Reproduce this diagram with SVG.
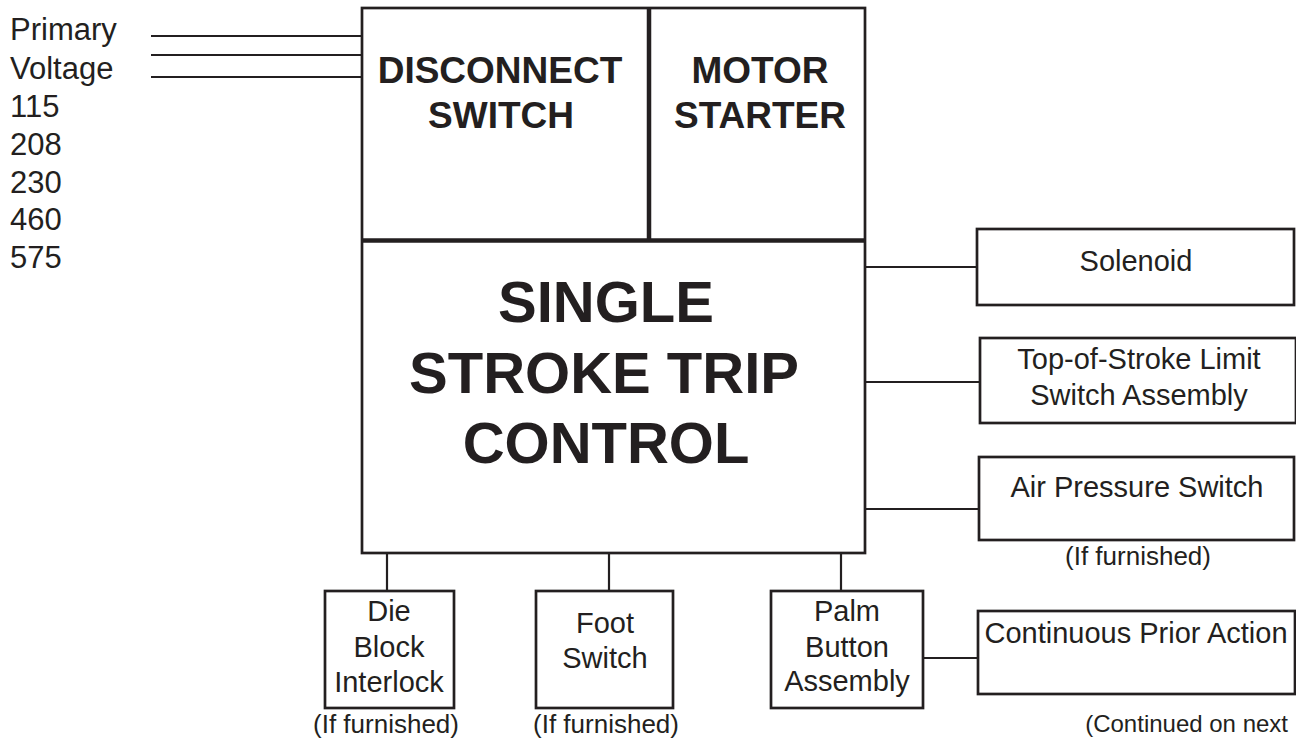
<svg xmlns="http://www.w3.org/2000/svg" width="1296" height="740" viewBox="0 0 1296 740">
<style>
text{font-family:"Liberation Sans",Arial,Helvetica,sans-serif;fill:#231f20}
.lbl{font-size:29px;text-anchor:middle}
.left{font-size:31px}
.note{font-size:26px;text-anchor:middle}
.big{font-size:58px;font-weight:bold;text-anchor:middle}
.hdr{font-size:37px;font-weight:bold;text-anchor:middle}
.box{fill:#fff;stroke:#231f20;stroke-width:2.7}
.div{stroke:#231f20;stroke-width:4.5;fill:none}
.con{stroke:#231f20;stroke-width:2.2;fill:none}
</style>
<rect width="1296" height="740" fill="#fff"/>
<g id="connectors">
<line class="con" x1="151" y1="36" x2="362" y2="36"/>
<line class="con" x1="151" y1="55" x2="362" y2="55"/>
<line class="con" x1="151" y1="77" x2="362" y2="77"/>
<line class="con" x1="865" y1="267" x2="977" y2="267"/>
<line class="con" x1="865" y1="382" x2="980" y2="382"/>
<line class="con" x1="865" y1="509" x2="979" y2="509"/>
<line class="con" x1="387" y1="553" x2="387" y2="591"/>
<line class="con" x1="609" y1="553" x2="609" y2="591"/>
<line class="con" x1="841" y1="553" x2="841" y2="591"/>
<line class="con" x1="923" y1="658" x2="978" y2="658"/>
</g>
<g id="primary-voltage">
<text class="left" x="10" y="40">Primary</text>
<text class="left" x="10" y="79">Voltage</text>
<text class="left" x="10" y="117">115</text>
<text class="left" x="10" y="155">208</text>
<text class="left" x="10" y="193">230</text>
<text class="left" x="10" y="230">460</text>
<text class="left" x="10" y="268">575</text>
</g>
<g id="main-control">
<rect class="box" x="362" y="8" width="503" height="545"/>
<line class="div" x1="362" y1="240.5" x2="865" y2="240.5"/>
<line class="div" x1="649" y1="8" x2="649" y2="240"/>
</g>
<g id="disconnect-switch">
<text class="hdr" x="500" y="83">DISCONNECT</text>
<text class="hdr" x="501" y="128">SWITCH</text>
</g>
<g id="motor-starter">
<text class="hdr" x="760" y="83">MOTOR</text>
<text class="hdr" x="760" y="128">STARTER</text>
</g>
<g id="single-stroke-trip-control">
<text class="big" x="606" y="322">SINGLE</text>
<text class="big" x="604" y="393">STROKE TRIP</text>
<text class="big" x="606" y="463">CONTROL</text>
</g>
<g id="solenoid">
<rect class="box" x="977" y="229" width="317" height="76"/>
<text class="lbl" x="1136" y="271">Solenoid</text>
</g>
<g id="top-of-stroke">
<rect class="box" x="980" y="338" width="316" height="85"/>
<text class="lbl" x="1139" y="369">Top-of-Stroke Limit</text>
<text class="lbl" x="1139" y="405">Switch Assembly</text>
</g>
<g id="air-pressure-switch">
<rect class="box" x="979" y="457" width="315" height="83"/>
<text class="lbl" x="1137" y="497">Air Pressure Switch</text>
<text class="note" x="1138" y="565">(If furnished)</text>
</g>
<g id="die-block-interlock">
<rect class="box" x="325" y="591" width="129" height="117"/>
<text class="lbl" x="389" y="621">Die</text>
<text class="lbl" x="389" y="657">Block</text>
<text class="lbl" x="389" y="692">Interlock</text>
<text class="note" x="386" y="733">(If furnished)</text>
</g>
<g id="foot-switch">
<rect class="box" x="536" y="591" width="137" height="117"/>
<text class="lbl" x="605" y="633">Foot</text>
<text class="lbl" x="605" y="668">Switch</text>
<text class="note" x="606" y="733">(If furnished)</text>
</g>
<g id="palm-button-assembly">
<rect class="box" x="771" y="591" width="152" height="117"/>
<text class="lbl" x="847" y="621">Palm</text>
<text class="lbl" x="847" y="657">Button</text>
<text class="lbl" x="847" y="691">Assembly</text>
</g>
<g id="continuous-prior-action">
<rect class="box" x="978" y="611" width="317" height="83"/>
<text class="lbl" x="1136" y="643">Continuous Prior Action</text>
</g>
<text class="note" x="1288" y="732" style="text-anchor:end;font-size:24px">(Continued on next</text>
</svg>
